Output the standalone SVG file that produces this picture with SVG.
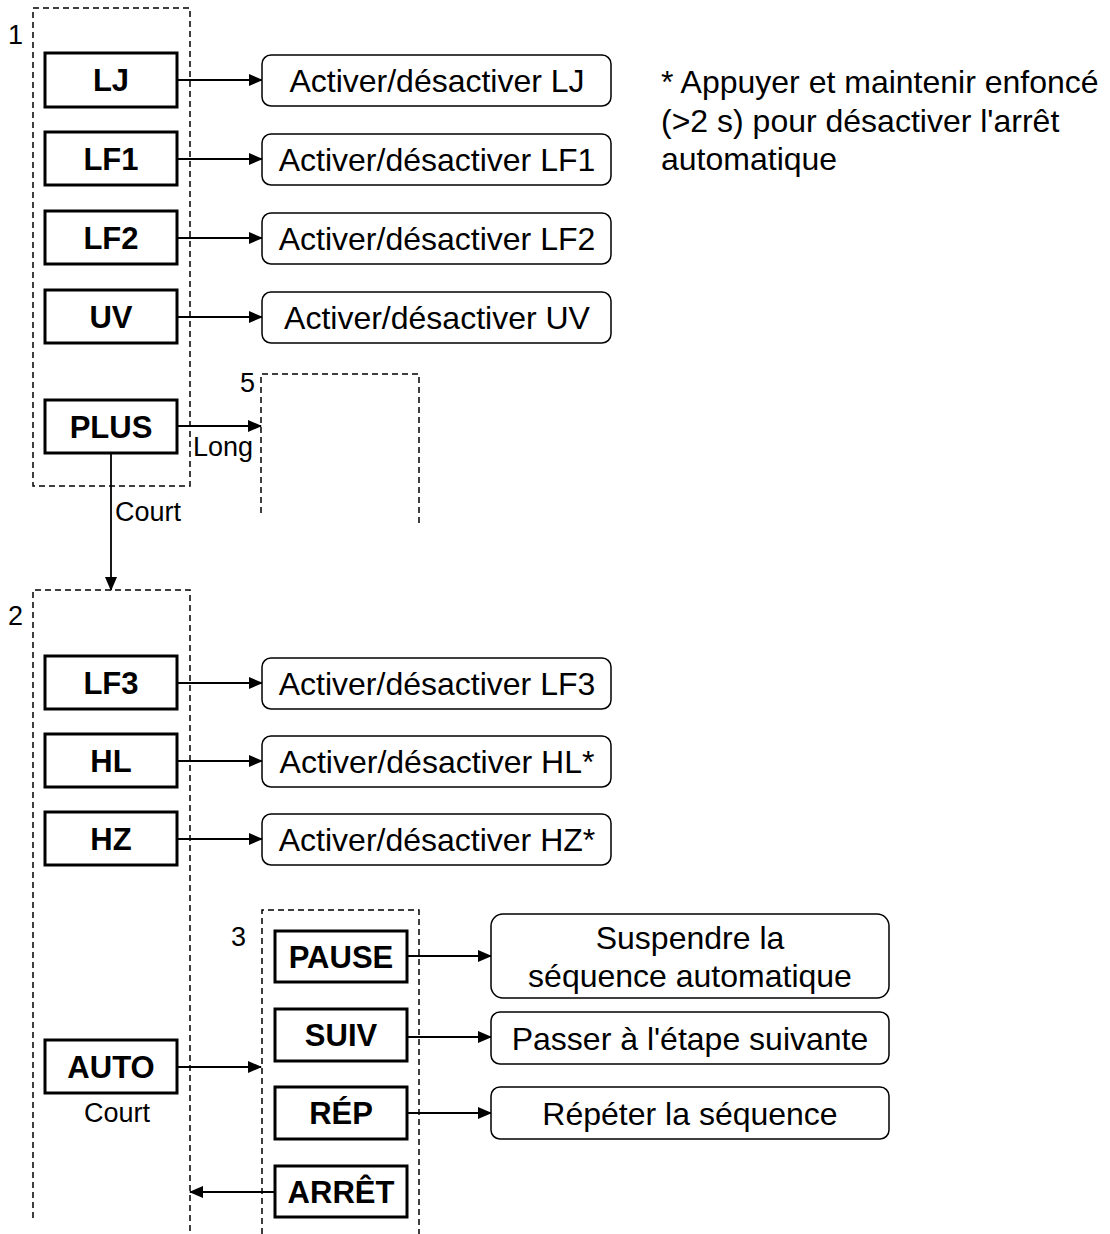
<svg xmlns="http://www.w3.org/2000/svg" width="1110" height="1234" viewBox="0 0 1110 1234">
<style>
  text { font-family: "Liberation Sans", Arial, sans-serif; fill: #000; }
  .btn rect { fill: #fff; stroke: #000; stroke-width: 3; }
  .btn text { font-size: 31px; font-weight: bold; text-anchor: middle; }
  .act rect { fill: #fff; stroke: #000; stroke-width: 1.5; }
  .act text { font-size: 32px; text-anchor: middle; }
  .note { font-size: 32px; }
  .grp { fill: none; stroke: #000; stroke-width: 1.5; stroke-dasharray: 6 4; }
  .lbl { font-size: 27px; }
  .conn { fill: none; stroke: #000; stroke-width: 1.8; }
</style>
<defs>
  <marker id="ah" markerWidth="14" markerHeight="12" refX="13" refY="6" orient="auto" markerUnits="userSpaceOnUse">
    <path d="M0,0 L14,6 L0,12 Z" fill="#000"/>
  </marker>
</defs>
<rect width="1110" height="1234" fill="#fff"/>

<g id="group1">
  <rect class="grp" x="33" y="8" width="157" height="478"/>
  <text class="lbl" x="8" y="44">1</text>
</g>
<g id="group5">
  <path class="grp" d="M261,513 L261,374 L419,374 L419,527"/>
  <text class="lbl" x="240" y="392">5</text>
</g>
<g id="group2">
  <path class="grp" d="M33,1218 L33,590 L190,590 L190,1234"/>
  <text class="lbl" x="8" y="625">2</text>
</g>
<g id="group3">
  <path class="grp" d="M262,1234 L262,910 L419,910 L419,1234"/>
  <text class="lbl" x="231" y="946">3</text>
</g>

<g id="connectors">
  <line class="conn" x1="177" y1="80" x2="262" y2="80" marker-end="url(#ah)"/>
  <line class="conn" x1="177" y1="159" x2="262" y2="159" marker-end="url(#ah)"/>
  <line class="conn" x1="177" y1="238" x2="262" y2="238" marker-end="url(#ah)"/>
  <line class="conn" x1="177" y1="317" x2="262" y2="317" marker-end="url(#ah)"/>
  <line class="conn" x1="177" y1="426" x2="261" y2="426" marker-end="url(#ah)"/>
  <text class="lbl" x="193" y="456">Long</text>
  <line class="conn" x1="111" y1="453" x2="111" y2="590" marker-end="url(#ah)"/>
  <text class="lbl" x="115" y="521">Court</text>
  <line class="conn" x1="177" y1="683" x2="262" y2="683" marker-end="url(#ah)"/>
  <line class="conn" x1="177" y1="761" x2="262" y2="761" marker-end="url(#ah)"/>
  <line class="conn" x1="177" y1="839" x2="262" y2="839" marker-end="url(#ah)"/>
  <line class="conn" x1="177" y1="1067" x2="261" y2="1067" marker-end="url(#ah)"/>
  <text class="lbl" x="117" y="1122" text-anchor="middle">Court</text>
  <line class="conn" x1="407" y1="956" x2="491" y2="956" marker-end="url(#ah)"/>
  <line class="conn" x1="407" y1="1037" x2="491" y2="1037" marker-end="url(#ah)"/>
  <line class="conn" x1="407" y1="1113" x2="491" y2="1113" marker-end="url(#ah)"/>
  <line class="conn" x1="275" y1="1192" x2="190" y2="1192" marker-end="url(#ah)"/>
</g>

<g id="btn-lj" class="btn"><rect x="45" y="53" width="132" height="54"/><text x="111" y="91">LJ</text></g>
<g id="btn-lf1" class="btn"><rect x="45" y="132" width="132" height="53"/><text x="111" y="170">LF1</text></g>
<g id="btn-lf2" class="btn"><rect x="45" y="211" width="132" height="53"/><text x="111" y="249">LF2</text></g>
<g id="btn-uv" class="btn"><rect x="45" y="290" width="132" height="53"/><text x="111" y="328">UV</text></g>
<g id="btn-plus" class="btn"><rect x="45" y="400" width="132" height="53"/><text x="111" y="438">PLUS</text></g>

<g id="act-lj" class="act"><rect x="262" y="55" width="349" height="51" rx="9"/><text x="437" y="92">Activer/désactiver LJ</text></g>
<g id="act-lf1" class="act"><rect x="262" y="134" width="349" height="51" rx="9"/><text x="437" y="171">Activer/désactiver LF1</text></g>
<g id="act-lf2" class="act"><rect x="262" y="213" width="349" height="51" rx="9"/><text x="437" y="250">Activer/désactiver LF2</text></g>
<g id="act-uv" class="act"><rect x="262" y="292" width="349" height="51" rx="9"/><text x="437" y="329">Activer/désactiver UV</text></g>

<g id="note">
  <text class="note" x="661" y="93">* Appuyer et maintenir enfoncé</text>
  <text class="note" x="661" y="132">(&gt;2 s) pour désactiver l'arrêt</text>
  <text class="note" x="661" y="170">automatique</text>
</g>

<g id="btn-lf3" class="btn"><rect x="45" y="656" width="132" height="53"/><text x="111" y="694">LF3</text></g>
<g id="btn-hl" class="btn"><rect x="45" y="734" width="132" height="53"/><text x="111" y="772">HL</text></g>
<g id="btn-hz" class="btn"><rect x="45" y="812" width="132" height="53"/><text x="111" y="850">HZ</text></g>
<g id="btn-auto" class="btn"><rect x="45" y="1040" width="132" height="53"/><text x="111" y="1078">AUTO</text></g>

<g id="act-lf3" class="act"><rect x="262" y="658" width="349" height="51" rx="9"/><text x="437" y="695">Activer/désactiver LF3</text></g>
<g id="act-hl" class="act"><rect x="262" y="736" width="349" height="51" rx="9"/><text x="437" y="773">Activer/désactiver HL*</text></g>
<g id="act-hz" class="act"><rect x="262" y="814" width="349" height="51" rx="9"/><text x="437" y="851">Activer/désactiver HZ*</text></g>

<g id="btn-pause" class="btn"><rect x="275" y="931" width="132" height="51"/><text x="341" y="968">PAUSE</text></g>
<g id="btn-suiv" class="btn"><rect x="275" y="1009" width="132" height="52"/><text x="341" y="1046">SUIV</text></g>
<g id="btn-rep" class="btn"><rect x="275" y="1087" width="132" height="52"/><text x="341" y="1124">RÉP</text></g>
<g id="btn-arret" class="btn"><rect x="275" y="1166" width="132" height="51"/><text x="341" y="1203">ARRÊT</text></g>

<g id="act-pause" class="act"><rect x="491" y="914" width="398" height="84" rx="12"/><text x="690" y="949">Suspendre la</text><text x="690" y="987">séquence automatique</text></g>
<g id="act-suiv" class="act"><rect x="491" y="1012" width="398" height="52" rx="9"/><text x="690" y="1050">Passer à l'étape suivante</text></g>
<g id="act-rep" class="act"><rect x="491" y="1087" width="398" height="52" rx="9"/><text x="690" y="1125">Répéter la séquence</text></g>
</svg>
